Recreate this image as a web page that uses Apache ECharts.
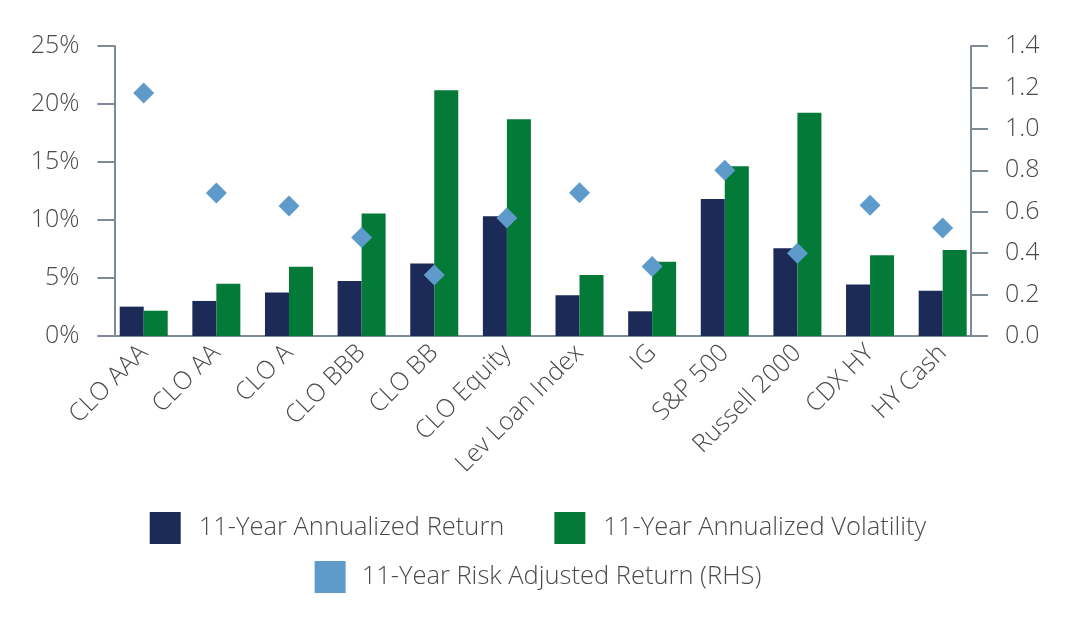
<!DOCTYPE html>
<html>
<head>
<meta charset="utf-8">
<script src="https://cdn.jsdelivr.net/npm/echarts@6/dist/echarts.min.js"></script>
<style>html,body{margin:0;padding:0;background:#fff;}#c{width:1076px;height:620px;}</style>
</head>
<body>
<div id="c"></div>
<script>
const categories = ['CLO AAA','CLO AA','CLO A','CLO BBB','CLO BB','CLO Equity','Lev Loan Index','IG','S&P 500','Russell 2000','CDX HY','HY Cash'];
const annualizedReturn = [2.53, 3.02, 3.74, 4.74, 6.26, 10.32, 3.51, 2.13, 11.81, 7.56, 4.45, 3.91];
const annualizedVolatility = [2.18, 4.51, 5.98, 10.55, 21.18, 18.68, 5.26, 6.41, 14.63, 19.25, 6.96, 7.41];
const riskAdjustedReturn = [1.173, 0.690, 0.628, 0.475, 0.294, 0.570, 0.692, 0.335, 0.800, 0.399, 0.631, 0.521];
const seriesNames = ['11-Year Annualized Return','11-Year Annualized Volatility','11-Year Risk Adjusted Return (RHS)'];

const FONT = 'Open Sans';
const TXT = '#4a4a4a';
const AX = '#7f8a97';
const chart = echarts.init(document.getElementById('c'));
chart.setOption({
  animation: false,
  textStyle: {fontFamily: FONT, fontWeight: 300},
  grid: {left: 107.4, right: 97, top: 46, bottom: 284, containLabel: false},
  legend: [{
    data: [seriesNames[0], seriesNames[1]],
    top: 507, left: 'center',
    itemWidth: 31, itemHeight: 32, itemGap: 50,
    icon: 'rect',
    textStyle: {fontFamily: FONT, fontWeight: 300, fontSize: 25.5, color: TXT, padding: [0,0,0,13]}
  },{
    data: [seriesNames[2]],
    top: 556, left: 'center',
    itemWidth: 31, itemHeight: 32,
    icon: 'rect',
    textStyle: {fontFamily: FONT, fontWeight: 300, fontSize: 25.5, color: TXT, padding: [0,0,0,11]}
  }],
  xAxis: {
    type: 'category', data: categories,
    axisLine: {lineStyle: {color: AX, width: 2}},
    axisTick: {show: false},
    axisLabel: {rotate: 45, fontSize: 25, color: TXT, margin: 13, fontFamily: FONT, fontWeight: 300, interval: 0}
  },
  yAxis: [{
    type: 'value', min: 0, max: 25, interval: 5, offset: -7,
    axisLine: {show: true, lineStyle: {color: AX, width: 2}},
    axisTick: {show: true, length: 17, lineStyle: {color: AX, width: 2}},
    splitLine: {show: false},
    axisLabel: {formatter: '{value}%', fontSize: 25, color: TXT, margin: 35, fontFamily: FONT, fontWeight: 300}
  },{
    type: 'value', min: 0, max: 1.4, interval: 0.2, offset: -8,
    axisLine: {show: true, lineStyle: {color: AX, width: 2}},
    axisTick: {show: true, length: 17, lineStyle: {color: AX, width: 2}},
    splitLine: {show: false},
    axisLabel: {formatter: v => v.toFixed(1), fontSize: 25, color: TXT, margin: 34, fontFamily: FONT, fontWeight: 300}
  }],
  series: [{
    name: seriesNames[0], type: 'bar', data: annualizedReturn, barWidth: 24, barGap: '0%',
    itemStyle: {color: '#1b2a56'}
  },{
    name: seriesNames[1], type: 'bar', data: annualizedVolatility, barWidth: 24, barGap: '0%',
    itemStyle: {color: '#037a37'}
  },{
    name: seriesNames[2], type: 'scatter', yAxisIndex: 1, data: riskAdjustedReturn,
    symbol: 'diamond', symbolSize: 21, z: 5,
    itemStyle: {color: '#5e9bcb', opacity: 1}
  }]
});
</script>
</body>
</html>
